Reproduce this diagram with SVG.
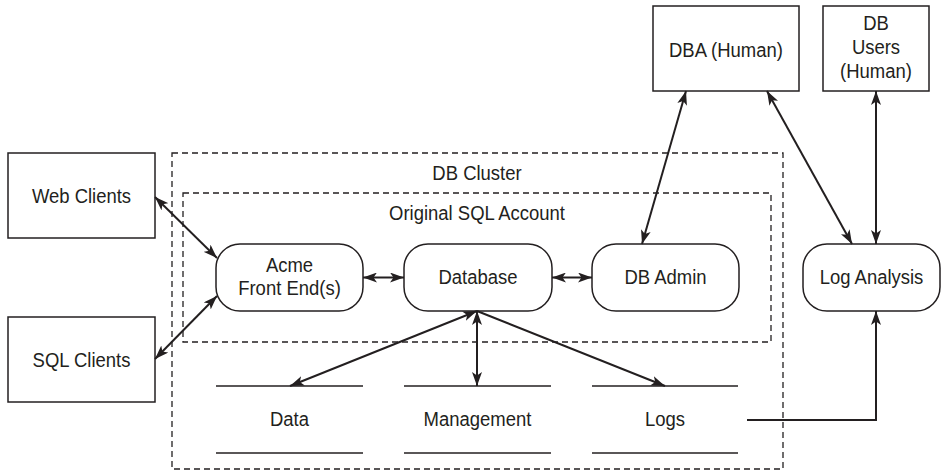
<svg xmlns="http://www.w3.org/2000/svg" width="942" height="473" viewBox="0 0 942 473">
<style>
.box{fill:#fff;stroke:#231f20;stroke-width:1.5}
.node{fill:#fff;stroke:#231f20;stroke-width:1.5}
.dash{fill:none;stroke:#231f20;stroke-width:1.3;stroke-dasharray:6 4}
.store{stroke:#231f20;stroke-width:1.6}
.c{fill:none;stroke:#231f20;stroke-width:2}
.b{marker-start:url(#ah);marker-end:url(#ah)}
.e{marker-end:url(#ah)}
text{font-family:"Liberation Sans",Arial,sans-serif;font-size:21px;fill:#231f20;text-anchor:middle}
</style>
<defs>
<marker id="ah" viewBox="0 0 14 10" refX="14" refY="5" markerWidth="14" markerHeight="10" orient="auto-start-reverse" markerUnits="userSpaceOnUse">
<path d="M0,0 L14,5 L0,10 L3.5,5 z" fill="#231f20"/>
</marker>
</defs>
<g id="db-cluster">
<rect class="dash" x="172" y="153" width="611" height="316"/>
<text transform="translate(477,180) scale(0.88,1)">DB Cluster</text>
</g>
<g id="original-sql-account">
<rect class="dash" x="183" y="193" width="588" height="149"/>
<text transform="translate(477,220) scale(0.88,1)">Original SQL Account</text>
</g>
<g id="web-clients">
<rect class="box" x="8" y="153" width="147" height="85"/>
<text transform="translate(81.5,203) scale(0.88,1)">Web Clients</text>
</g>
<g id="sql-clients">
<rect class="box" x="8" y="317" width="147" height="85"/>
<text transform="translate(81.5,367) scale(0.88,1)">SQL Clients</text>
</g>
<g id="dba-human">
<rect class="box" x="653" y="6" width="146" height="85"/>
<text transform="translate(726,57) scale(0.88,1)">DBA (Human)</text>
</g>
<g id="db-users-human">
<rect class="box" x="823" y="6" width="106" height="85"/>
<text transform="translate(876,30) scale(0.88,1)">DB</text>
<text transform="translate(876,54) scale(0.88,1)">Users</text>
<text transform="translate(876,78) scale(0.88,1)">(Human)</text>
</g>
<g id="acme-front-end">
<rect class="node" x="216" y="244" width="147" height="67" rx="24"/>
<text transform="translate(289.5,272) scale(0.88,1)">Acme</text>
<text transform="translate(289.5,295) scale(0.88,1)">Front End(s)</text>
</g>
<g id="database">
<rect class="node" x="404" y="244" width="148" height="67" rx="24"/>
<text transform="translate(478,284) scale(0.88,1)">Database</text>
</g>
<g id="db-admin">
<rect class="node" x="592" y="244" width="147" height="67" rx="24"/>
<text transform="translate(665.5,284) scale(0.88,1)">DB Admin</text>
</g>
<g id="log-analysis">
<rect class="node" x="803" y="244" width="137" height="67" rx="24"/>
<text transform="translate(871.5,284) scale(0.88,1)">Log Analysis</text>
</g>
<g id="data">
<line class="store" x1="216" y1="386" x2="363" y2="386"/>
<line class="store" x1="216" y1="453" x2="363" y2="453"/>
<text transform="translate(289.5,426) scale(0.88,1)">Data</text>
</g>
<g id="management">
<line class="store" x1="404" y1="386" x2="551" y2="386"/>
<line class="store" x1="404" y1="453" x2="551" y2="453"/>
<text transform="translate(477.5,426) scale(0.88,1)">Management</text>
</g>
<g id="logs">
<line class="store" x1="592" y1="386" x2="738" y2="386"/>
<line class="store" x1="592" y1="453" x2="738" y2="453"/>
<text transform="translate(665,426) scale(0.88,1)">Logs</text>
</g>
<g id="connectors">
<path class="c b" d="M155,197 L217,258"/>
<path class="c b" d="M155,359 L217,296"/>
<path class="c b" d="M363,277.5 L404,277.5"/>
<path class="c b" d="M552,277.5 L592,277.5"/>
<path class="c b" d="M686,91 L642,244"/>
<path class="c b" d="M767,91 L852,244"/>
<path class="c b" d="M876,91 L876,244"/>
<path class="c b" d="M477,311 L290,386"/>
<path class="c b" d="M477,311 L477,386"/>
<path class="c e" d="M477,311 L665,386"/>
<path class="c e" d="M747,420 H876 V311"/>
</g>
</svg>
